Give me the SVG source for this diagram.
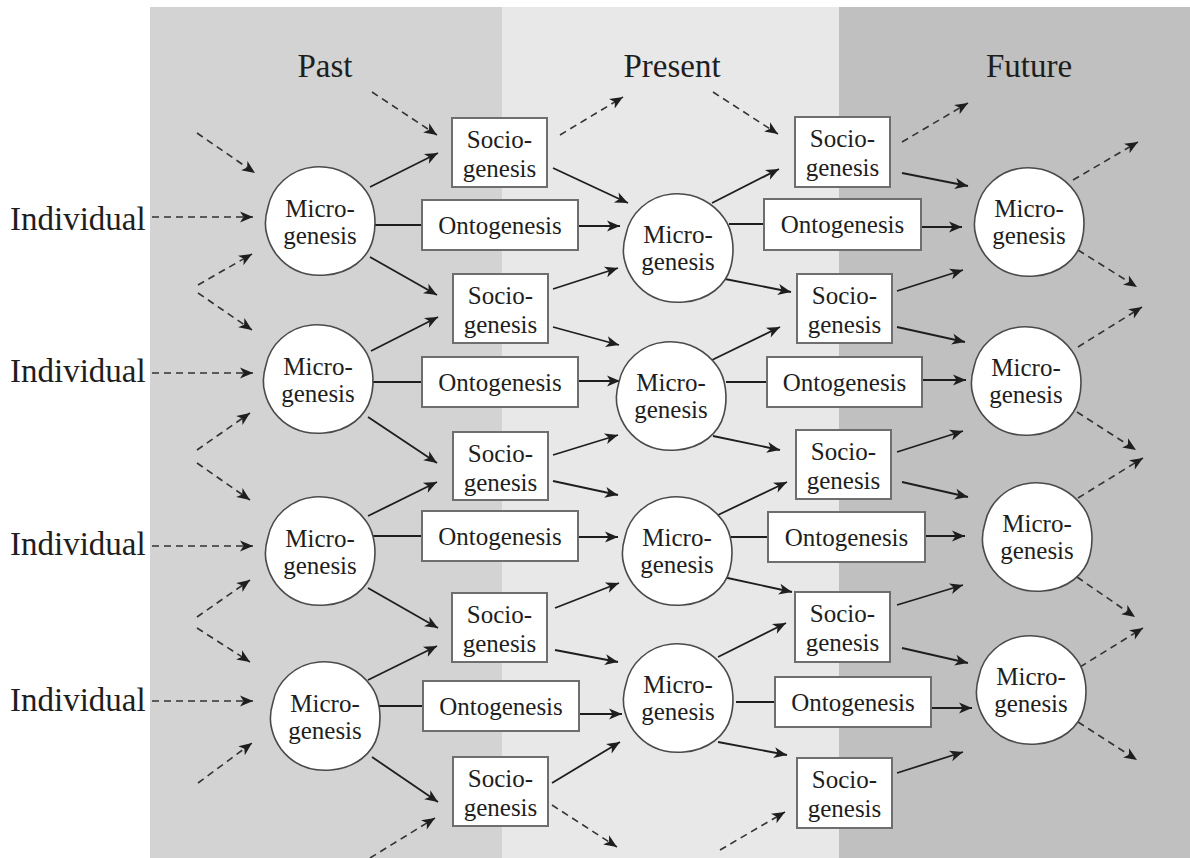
<svg xmlns="http://www.w3.org/2000/svg" xmlns:xlink="http://www.w3.org/1999/xlink" width="1190" height="858" viewBox="0 0 1190 858">
<style>
text{font-family:"Liberation Serif","Times New Roman",serif;fill:#1e1e1e}
.hd{font-size:33px;text-anchor:middle}
.ind{font-size:33px}
.t{font-size:25px;text-anchor:middle}
.box{fill:#fff;stroke:#6e6e6e;stroke-width:2}
.blob{fill:#fff;stroke:#4a4a4a;stroke-width:1.6}
.s{stroke:#1e1e1e;stroke-width:1.8;fill:none;marker-end:url(#ah)}
.l{stroke:#1e1e1e;stroke-width:1.8;fill:none}
.d{stroke:#333;stroke-width:1.6;fill:none;stroke-dasharray:7 5;marker-end:url(#ah)}
</style>
<defs>
<marker id="ah" markerUnits="userSpaceOnUse" markerWidth="14" markerHeight="11" refX="13" refY="5.5" orient="auto" overflow="visible">
<path d="M0,0 L13,5.5 L0,11 L3.5,5.5 Z" fill="#1e1e1e"/>
</marker>
<path id="bl" d="M -52,-14 C -48,-34 -30,-52 -6,-54 C 18,-56 36,-44 46,-30 C 55,-18 57,2 53,18 C 48,38 30,52 6,54 C -18,56 -34,46 -44,33 C -49,26 -51,22 -53,14 C -56,4 -55,-4 -52,-14 Z"/>
</defs>
<g id="background">
<rect x="150" y="7" width="352" height="851" fill="#d3d3d3"/>
<rect x="502" y="7" width="337" height="851" fill="#e8e8e8"/>
<rect x="839" y="7" width="351" height="851" fill="#c0c0c0"/>
</g>
<g id="headers">
<text class="hd" x="325" y="77">Past</text>
<text class="hd" x="672" y="77">Present</text>
<text class="hd" x="1029" y="77">Future</text>
</g>
<g id="individual-labels">
<text class="ind" x="10" y="230">Individual</text>
<text class="ind" x="10" y="382">Individual</text>
<text class="ind" x="10" y="555">Individual</text>
<text class="ind" x="10" y="711">Individual</text>
</g>
<g id="connectors">
<path class="s" d="M370,187 L438,153"/>
<path class="s" d="M370,257 L437,295"/>
<path class="s" d="M371,351 L438,317"/>
<path class="s" d="M368,417 L437,463"/>
<path class="s" d="M368,516 L437,482"/>
<path class="s" d="M368,588 L438,628"/>
<path class="s" d="M368,680 L437,646"/>
<path class="s" d="M372,757 L438,802"/>
<path class="l" d="M374,225 L422,225"/>
<path class="l" d="M372,382 L422,382"/>
<path class="l" d="M373,536 L422,536"/>
<path class="l" d="M379,706 L423,706"/>
<path class="s" d="M553,168 L628,203"/>
<path class="s" d="M578,226 L620,226"/>
<path class="s" d="M553,289 L618,268"/>
<path class="s" d="M553,327 L619,345"/>
<path class="s" d="M578,381 L620,381"/>
<path class="s" d="M553,455 L618,435"/>
<path class="s" d="M553,481 L618,495"/>
<path class="s" d="M578,537 L618,537"/>
<path class="s" d="M555,608 L619,583"/>
<path class="s" d="M555,650 L618,662"/>
<path class="s" d="M580,714 L622,714"/>
<path class="s" d="M552,783 L620,742"/>
<path class="s" d="M712,203 L779,169"/>
<path class="s" d="M725,279 L791,292"/>
<path class="s" d="M712,360 L780,327"/>
<path class="s" d="M713,436 L780,450"/>
<path class="s" d="M718,515 L787,482"/>
<path class="s" d="M723,577 L792,592"/>
<path class="s" d="M718,657 L786,623"/>
<path class="s" d="M718,742 L787,755"/>
<path class="l" d="M729,224 L764,224"/>
<path class="l" d="M726,382 L767,382"/>
<path class="l" d="M731,537 L768,537"/>
<path class="l" d="M736,702 L775,702"/>
<path class="s" d="M902,173 L968,186"/>
<path class="s" d="M921,227 L962,227"/>
<path class="s" d="M897,291 L963,270"/>
<path class="s" d="M897,327 L965,342"/>
<path class="s" d="M921,380 L966,380"/>
<path class="s" d="M897,452 L963,431"/>
<path class="s" d="M902,482 L968,497"/>
<path class="s" d="M925,536 L965,536"/>
<path class="s" d="M897,605 L963,585"/>
<path class="s" d="M902,648 L968,663"/>
<path class="s" d="M931,708 L972,708"/>
<path class="s" d="M897,773 L963,752"/>
<path class="d" d="M152,217 L253,217"/>
<path class="d" d="M152,373 L253,373"/>
<path class="d" d="M152,546 L253,546"/>
<path class="d" d="M152,701 L253,701"/>
<path class="d" d="M197,133 L255,173"/>
<path class="d" d="M198,285 L252,254"/>
<path class="d" d="M198,293 L252,330"/>
<path class="d" d="M197,450 L250,413"/>
<path class="d" d="M197,463 L250,500"/>
<path class="d" d="M197,617 L250,580"/>
<path class="d" d="M197,628 L250,662"/>
<path class="d" d="M198,783 L252,743"/>
<path class="d" d="M372,92 L437,135"/>
<path class="d" d="M560,135 L623,97"/>
<path class="d" d="M713,92 L778,134"/>
<path class="d" d="M902,142 L968,103"/>
<path class="d" d="M370,858 L435,818"/>
<path class="d" d="M552,805 L617,847"/>
<path class="d" d="M720,850 L785,812"/>
<path class="d" d="M1073,180 L1138,142"/>
<path class="d" d="M1078,250 L1137,287"/>
<path class="d" d="M1078,347 L1142,307"/>
<path class="d" d="M1077,412 L1136,450"/>
<path class="d" d="M1078,498 L1143,458"/>
<path class="d" d="M1077,577 L1135,617"/>
<path class="d" d="M1080,667 L1143,628"/>
<path class="d" d="M1078,722 L1137,760"/>
</g>
<g id="past-micro-1"><use xlink:href="#bl" class="blob" transform="translate(320,221)"/><text class="t" x="320" y="217">Micro-</text><text class="t" x="320" y="244">genesis</text></g>
<g id="past-micro-2"><use xlink:href="#bl" class="blob" transform="translate(318,379)"/><text class="t" x="318" y="375">Micro-</text><text class="t" x="318" y="402">genesis</text></g>
<g id="past-micro-3"><use xlink:href="#bl" class="blob" transform="translate(320,551)"/><text class="t" x="320" y="547">Micro-</text><text class="t" x="320" y="574">genesis</text></g>
<g id="past-micro-4"><use xlink:href="#bl" class="blob" transform="translate(325,716)"/><text class="t" x="325" y="712">Micro-</text><text class="t" x="325" y="739">genesis</text></g>
<g id="past-socio-1"><rect class="box" x="452" y="118" width="95" height="69"/><text class="t" x="499.5" y="148">Socio-</text><text class="t" x="499.5" y="177">genesis</text></g>
<g id="past-socio-2"><rect class="box" x="453" y="274" width="95" height="69"/><text class="t" x="500.5" y="304">Socio-</text><text class="t" x="500.5" y="333">genesis</text></g>
<g id="past-socio-3"><rect class="box" x="453" y="432" width="95" height="68"/><text class="t" x="500.5" y="462">Socio-</text><text class="t" x="500.5" y="491">genesis</text></g>
<g id="past-socio-4"><rect class="box" x="452" y="593" width="95" height="69"/><text class="t" x="499.5" y="623">Socio-</text><text class="t" x="499.5" y="652">genesis</text></g>
<g id="past-socio-5"><rect class="box" x="453" y="757" width="95" height="69"/><text class="t" x="500.5" y="787">Socio-</text><text class="t" x="500.5" y="816">genesis</text></g>
<g id="past-onto-1"><rect class="box" x="422" y="200" width="156" height="50"/><text class="t" x="500" y="234">Ontogenesis</text></g>
<g id="past-onto-2"><rect class="box" x="422" y="357" width="156" height="50"/><text class="t" x="500" y="391">Ontogenesis</text></g>
<g id="past-onto-3"><rect class="box" x="422" y="511" width="156" height="50"/><text class="t" x="500" y="545">Ontogenesis</text></g>
<g id="past-onto-4"><rect class="box" x="423" y="681" width="156" height="50"/><text class="t" x="501" y="715">Ontogenesis</text></g>
<g id="present-micro-1"><use xlink:href="#bl" class="blob" transform="translate(678,248)"/><text class="t" x="678" y="243">Micro-</text><text class="t" x="678" y="270">genesis</text></g>
<g id="present-micro-2"><use xlink:href="#bl" class="blob" transform="translate(671,396)"/><text class="t" x="671" y="391">Micro-</text><text class="t" x="671" y="418">genesis</text></g>
<g id="present-micro-3"><use xlink:href="#bl" class="blob" transform="translate(677,551)"/><text class="t" x="677" y="546">Micro-</text><text class="t" x="677" y="573">genesis</text></g>
<g id="present-micro-4"><use xlink:href="#bl" class="blob" transform="translate(678,698)"/><text class="t" x="678" y="693">Micro-</text><text class="t" x="678" y="720">genesis</text></g>
<g id="present-socio-1"><rect class="box" x="795" y="117" width="95" height="70"/><text class="t" x="842.5" y="147">Socio-</text><text class="t" x="842.5" y="176">genesis</text></g>
<g id="present-socio-2"><rect class="box" x="797" y="274" width="95" height="69"/><text class="t" x="844.5" y="304">Socio-</text><text class="t" x="844.5" y="333">genesis</text></g>
<g id="present-socio-3"><rect class="box" x="796" y="430" width="95" height="69"/><text class="t" x="843.5" y="460">Socio-</text><text class="t" x="843.5" y="489">genesis</text></g>
<g id="present-socio-4"><rect class="box" x="795" y="592" width="95" height="70"/><text class="t" x="842.5" y="622">Socio-</text><text class="t" x="842.5" y="651">genesis</text></g>
<g id="present-socio-5"><rect class="box" x="797" y="758" width="95" height="70"/><text class="t" x="844.5" y="788">Socio-</text><text class="t" x="844.5" y="817">genesis</text></g>
<g id="present-onto-1"><rect class="box" x="764" y="199" width="157" height="51"/><text class="t" x="842.5" y="233">Ontogenesis</text></g>
<g id="present-onto-2"><rect class="box" x="767" y="357" width="155" height="50"/><text class="t" x="844.5" y="391">Ontogenesis</text></g>
<g id="present-onto-3"><rect class="box" x="768" y="512" width="157" height="50"/><text class="t" x="846.5" y="546">Ontogenesis</text></g>
<g id="present-onto-4"><rect class="box" x="775" y="677" width="156" height="50"/><text class="t" x="853" y="711">Ontogenesis</text></g>
<g id="future-micro-1"><use xlink:href="#bl" class="blob" transform="translate(1029,222)"/><text class="t" x="1029" y="217">Micro-</text><text class="t" x="1029" y="244">genesis</text></g>
<g id="future-micro-2"><use xlink:href="#bl" class="blob" transform="translate(1026,381)"/><text class="t" x="1026" y="376">Micro-</text><text class="t" x="1026" y="403">genesis</text></g>
<g id="future-micro-3"><use xlink:href="#bl" class="blob" transform="translate(1037,537)"/><text class="t" x="1037" y="532">Micro-</text><text class="t" x="1037" y="559">genesis</text></g>
<g id="future-micro-4"><use xlink:href="#bl" class="blob" transform="translate(1031,690)"/><text class="t" x="1031" y="685">Micro-</text><text class="t" x="1031" y="712">genesis</text></g>
</svg>
